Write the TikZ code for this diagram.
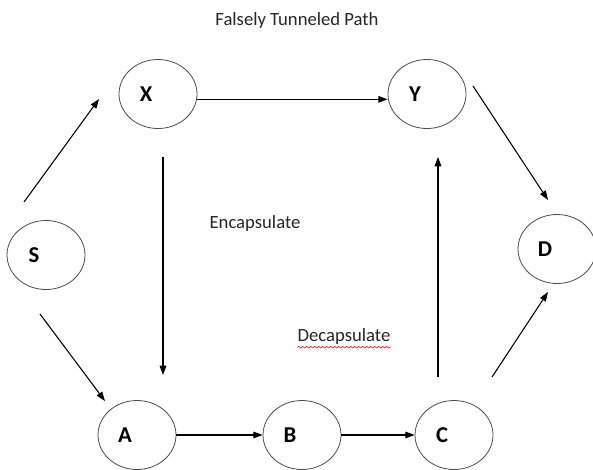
\documentclass[tikz,border=0pt]{standalone}
\usepackage{fontspec}
\setmainfont{Carlito}
\usepackage{tikz}
\usetikzlibrary{arrows.meta,shapes.geometric,decorations.pathmorphing}

\begin{document}
\begin{tikzpicture}[x=0.75pt,y=-0.75pt,
  router/.style={ellipse,draw=black!70,line width=0.6pt,minimum width=58.5pt,minimum height=51.75pt,inner sep=0pt,font=\fontsize{17}{20}\selectfont\bfseries,execute at end node={\hspace{18pt}}},
  caption/.style={font=\fontsize{14}{17}\selectfont,text=black!85,inner sep=0pt},
  link/.style={line width=0.8pt,-{Triangle[length=7pt,width=5pt]}}]
\useasboundingbox (0,0) rectangle (593,469);
\node[caption] (title) at (297,21) {Falsely Tunneled Path};
\node[router] (X) at (158,94) {X};
\node[router] (Y) at (427,94) {Y};
\node[router] (S) at (46,255) {S};
\node[router] (D) at (557,249) {D};
\node[router] (A) at (137,435) {A};
\node[router] (B) at (302,435) {B};
\node[router] (C) at (454,435) {C};
\node[caption] (encap) at (255,224) {Encapsulate};
\node[caption] (decap) at (344,337) {Decapsulate};
\coordinate (sx0) at (24,202);
\coordinate (sx1) at (99,99);
\coordinate (sa0) at (40,314);
\coordinate (sa1) at (105,401);
\coordinate (xa0) at (163,157);
\coordinate (xa1) at (163,375);
\coordinate (cy0) at (438,377);
\coordinate (cy1) at (438,157);
\coordinate (yd0) at (473,86);
\coordinate (yd1) at (548,200);
\coordinate (cd0) at (492,377);
\coordinate (cd1) at (548,292);
\draw[link] (sx0) -- (sx1);
\draw[link] (sa0) -- (sa1);
\draw[link] ([yshift=-4pt]X.east) -- ([yshift=-4pt]Y.west);
\draw[link] (xa0) -- (xa1);
\draw[link] (A) -- (B);
\draw[link] (B) -- (C);
\draw[link] (cy0) -- (cy1);
\draw[link] (yd0) -- (yd1);
\draw[link] (cd0) -- (cd1);
\draw[red,decorate,decoration={snake,amplitude=0.6pt,segment length=3pt}] ([yshift=-1.5pt]decap.south west) -- ([yshift=-1.5pt]decap.south east);
\end{tikzpicture}
\end{document}
